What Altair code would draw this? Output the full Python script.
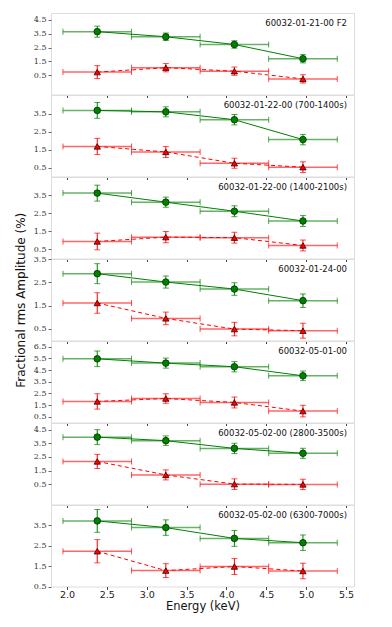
import altair as alt
import pandas as pd

# Energy bins (keV)
energy = [2.38, 3.24, 4.10, 4.96]
energy_lo = [1.95, 2.81, 3.67, 4.53]
energy_hi = [2.81, 3.67, 4.53, 5.39]

labels = [
    "60032-01-21-00 F2",
    "60032-01-22-00 (700-1400s)",
    "60032-01-22-00 (1400-2100s)",
    "60032-01-24-00",
    "60032-05-01-00",
    "60032-05-02-00 (2800-3500s)",
    "60032-05-02-00 (6300-7000s)",
]

green_vals = [
    [3.65, 3.28, 2.72, 1.69],
    [3.69, 3.61, 3.17, 2.06],
    [3.61, 3.11, 2.61, 2.07],
    [2.87, 2.51, 2.21, 1.71],
    [5.47, 5.10, 4.79, 4.01],
    [3.96, 3.70, 3.13, 2.77],
    [3.72, 3.39, 2.86, 2.65],
]
green_errs = [
    [0.40, 0.27, 0.27, 0.30],
    [0.44, 0.28, 0.29, 0.29],
    [0.44, 0.28, 0.30, 0.30],
    [0.43, 0.26, 0.27, 0.29],
    [0.67, 0.43, 0.44, 0.41],
    [0.55, 0.35, 0.38, 0.37],
    [0.56, 0.38, 0.39, 0.38],
]
red_vals = [
    [0.72, 1.04, 0.79, 0.23],
    [1.68, 1.37, 0.74, 0.52],
    [0.94, 1.18, 1.15, 0.72],
    [1.61, 0.95, 0.49, 0.42],
    [1.81, 2.06, 1.72, 0.98],
    [2.17, 1.18, 0.50, 0.48],
    [2.23, 1.28, 1.48, 1.26],
]
red_errs = [
    [0.47, 0.30, 0.30, 0.30],
    [0.45, 0.31, 0.28, 0.30],
    [0.46, 0.31, 0.30, 0.30],
    [0.44, 0.27, 0.29, 0.32],
    [0.66, 0.41, 0.47, 0.50],
    [0.52, 0.37, 0.39, 0.38],
    [0.57, 0.34, 0.39, 0.38],
]
y_domains = [
    [-0.9, 5.0],
    [0.0, 4.55],
    [0.0, 4.5],
    [0.0, 3.5],
    [0.0, 7.0],
    [-1.0, 5.0],
    [0.5, 4.5],
]
y_ticks = [
    [0.5, 1.5, 2.5, 3.5, 4.5],
    [0.5, 1.5, 2.5, 3.5],
    [0.5, 1.5, 2.5, 3.5],
    [0.5, 1.5, 2.5, 3.5],
    [0.5, 1.5, 2.5, 3.5, 4.5, 5.5, 6.5],
    [0.5, 1.5, 2.5, 3.5, 4.5],
    [0.5, 1.5, 2.5, 3.5],
]
x_ticks = [2.0, 2.5, 3.0, 3.5, 4.0, 4.5, 5.0, 5.5]

W = 303
H = 81.5
GREEN = "#008000"
RED = "#ff0000"

panels = []
n = len(labels)
for i in range(n):
    rows = []
    for j in range(4):
        rows.append(dict(e=energy[j], lo=energy_lo[j], hi=energy_hi[j], s="g",
                         v=green_vals[i][j], vlo=green_vals[i][j] - green_errs[i][j],
                         vhi=green_vals[i][j] + green_errs[i][j]))
        rows.append(dict(e=energy[j], lo=energy_lo[j], hi=energy_hi[j], s="r",
                         v=red_vals[i][j], vlo=red_vals[i][j] - red_errs[i][j],
                         vhi=red_vals[i][j] + red_errs[i][j]))
    df = pd.DataFrame(rows)
    last = (i == n - 1)
    xaxis = alt.Axis(values=x_ticks, labels=last, title="Energy (keV)" if last else None,
                     format=".1f", tickSize=3, domain=False, grid=False,
                     labelFont="DejaVu Sans", labelFontSize=9.5, labelColor="#222",
                     titleFont="DejaVu Sans", titleFontSize=11.5, titleFontWeight="normal",
                     titleColor="#111", tickColor="#444", labelPadding=0, titlePadding=1,
                     labelOverlap=False)
    yaxis = alt.Axis(values=y_ticks[i], format=".1f", tickSize=3, domain=False, grid=False,
                     labelFont="DejaVu Serif", labelFontSize=8, labelColor="#333",
                     tickColor="#666", labelPadding=2, labelOverlap=False,
                     title="Fractional  rms  Amplitude (%)" if i == 3 else None,
                     titleFont="DejaVu Sans", titleFontSize=12, titleFontWeight="normal",
                     titleColor="#111", titlePadding=6)
    xs = alt.Scale(domain=[1.8, 5.6], nice=False, zero=False)
    ys = alt.Scale(domain=y_domains[i], nice=False, zero=False)
    base = alt.Chart(df)
    color = alt.Color("s:N", scale=alt.Scale(domain=["g", "r"], range=[GREEN, RED]), legend=None)
    X = lambda f: alt.X(f, scale=xs, axis=xaxis)
    Y = lambda f: alt.Y(f, scale=ys, axis=yaxis)

    hbar = base.mark_rule(strokeWidth=1.5, opacity=0.6).encode(
        x=X("lo:Q"), x2="hi:Q", y=Y("v:Q"), color=color)
    hcap_lo = base.mark_tick(orient="vertical", size=6, thickness=1).encode(
        x=X("lo:Q"), y=Y("v:Q"), color=color)
    hcap_hi = base.mark_tick(orient="vertical", size=6, thickness=1).encode(
        x=X("hi:Q"), y=Y("v:Q"), color=color)
    vbar = base.mark_rule(strokeWidth=1).encode(
        x=X("e:Q"), y=Y("vlo:Q"), y2="vhi:Q", color=color)
    vcap_lo = base.mark_tick(orient="horizontal", size=6, thickness=1).encode(
        x=X("e:Q"), y=Y("vlo:Q"), color=color)
    vcap_hi = base.mark_tick(orient="horizontal", size=6, thickness=1).encode(
        x=X("e:Q"), y=Y("vhi:Q"), color=color)
    gline = base.transform_filter(alt.datum.s == "g").mark_line(color=GREEN, strokeWidth=1).encode(
        x=X("e:Q"), y=Y("v:Q"))
    rline = base.transform_filter(alt.datum.s == "r").mark_line(
        color=RED, strokeWidth=1, strokeDash=[4, 3]).encode(x=X("e:Q"), y=Y("v:Q"))
    gpts = base.transform_filter(alt.datum.s == "g").mark_point(
        shape="circle", filled=True, fill=GREEN, stroke="#003300", strokeWidth=0.8,
        size=44, opacity=1).encode(x=X("e:Q"), y=Y("v:Q"))
    rpts = base.transform_filter(alt.datum.s == "r").mark_point(
        shape="triangle-up", filled=True, fill=RED, stroke="#330000", strokeWidth=0.8,
        size=40, opacity=1).encode(x=X("e:Q"), y=Y("v:Q"))
    txt = alt.Chart(pd.DataFrame({"t": [labels[i]]})).mark_text(
        align="right", baseline="top", font="DejaVu Sans", fontSize=8.5, color="#111").encode(
        x=alt.value(W - 7), y=alt.value(6), text="t:N")

    p = alt.layer(hbar, hcap_lo, hcap_hi, vbar, vcap_lo, vcap_hi, gline, rline, gpts, rpts, txt
                  ).properties(width=W, height=H)
    panels.append(p)

chart = alt.vconcat(*panels, spacing=0, bounds="flush").configure_view(
    stroke="#444", strokeWidth=1.2).configure_axis(labelOverlap=False).configure(
    background="white").properties(
    padding={"left": 5, "top": 4, "right": 5, "bottom": 5})

chart.save("out.html", embed_options={"renderer": "svg", "actions": False})
